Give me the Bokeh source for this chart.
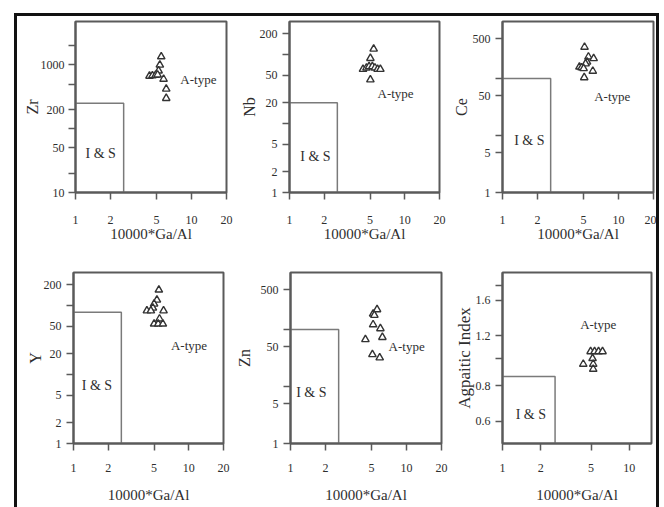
from bokeh.plotting import figure
from bokeh.layouts import row, column
from bokeh.models import FixedTicker, BasicTickFormatter, Range1d, Spacer
from bokeh.core.properties import value
from bokeh.embed import file_html
from bokeh.resources import INLINE

# ---------------- data ----------------
ga_ticks = [1, 2, 5, 10, 20]
ga_ticks_ai = [1, 2, 5, 10]
ga_limit = 2.6
x_title = "10000*Ga/Al"

zr_x = [5.48, 5.33, 5.2, 4.34, 4.6, 4.9, 5.1, 5.74, 6.05, 6.05]
zr_y = [1350, 1000, 810, 670, 680, 690, 700, 600, 420, 300]
zr_limit = 250
zr_major = [10, 50, 200, 1000]
zr_minor = [20, 100, 500, 2000]

nb_x = [5.37, 5.03, 4.34, 4.65, 4.9, 5.23, 5.51, 5.81, 6.14, 5.03]
nb_y = [120, 88, 61, 64, 67, 67, 64, 61, 61, 43]
nb_limit = 20
nb_major = [1, 2, 5, 20, 50, 200]
nb_minor = [10, 100]

ce_x = [5.09, 5.5, 6.1, 5.35, 5.2, 4.6, 4.8, 5.0, 6.0, 5.06]
ce_y = [356, 240, 225, 195, 182, 160, 155, 150, 135, 104]
ce_limit = 100
ce_major = [1, 5, 50, 500]
ce_minor = [10, 100]

y_x = [5.5, 5.29, 5.0, 4.88, 4.33, 4.69, 6.04, 5.57, 5.0, 5.43, 5.96]
y_y = [168, 120, 105, 92, 84, 84, 84, 64, 54, 54, 54]
y_limit = 80
y_major = [1, 2, 5, 20, 50, 200]
y_minor = [10, 100]

zn_x = [5.57, 5.15, 5.28, 5.15, 5.95, 4.42, 6.19, 5.08, 5.87]
zn_y = [224, 187, 178, 122, 104, 67, 73, 36.5, 32]
zn_limit = 100
zn_major = [1, 5, 50, 500]
zn_minor = [10, 100]

ai_x = [4.96, 5.33, 5.73, 6.16, 5.14, 4.34, 5.2, 5.2]
ai_y = [1.054, 1.054, 1.054, 1.054, 0.997, 0.952, 0.952, 0.914]
ai_limit = 0.86
ai_major = [0.6, 0.8, 1.2, 1.6]
ai_minor = [1.0, 1.8]

FONT = "Liberation Serif"
TXT = "#2e2e2e"
FRAME = "#5a5a5a"


def panel(name, xs, ys, limit, yrange, ymajor, yminor, atype_xy, is_xy,
          xmax=20, xticks=ga_ticks, lb=58, rb=8, tb=5, bb=58, fw=151, fh=171,
          ylab_standoff=3, ylab_label_standoff=5, xlab_standoff=16,
          xtitle_standoff=-1, ytitle_size="16px"):
    p = figure(x_axis_type="log", y_axis_type="log",
               x_range=Range1d(1, xmax), y_range=Range1d(*yrange),
               frame_width=fw, frame_height=fh,
               min_border_left=lb, min_border_right=rb,
               min_border_top=tb, min_border_bottom=bb,
               output_backend="svg", toolbar_location=None,
               background_fill_color="white", border_fill_color="white")
    p.grid.visible = False
    p.outline_line_color = FRAME
    p.outline_line_width = 2

    # discrimination box
    p.line(x=[1, ga_limit, ga_limit], y=[limit, limit, yrange[0]],
           line_color="#7a7a7a", line_width=1.5)
    # samples
    p.scatter(x=xs, y=ys, marker="triangle", size=7.5, fill_color="white",
              line_color="#333333", line_width=1.4)
    # field labels
    p.text(x=[atype_xy[0]], y=[atype_xy[1]], text=["A-type"],
           text_font=value(FONT), text_font_size="13px", text_color=TXT,
           text_baseline="middle", text_align="left")
    p.text(x=[is_xy[0]], y=[is_xy[1]], text=["I & S"],
           text_font=value(FONT), text_font_size="14px", text_color=TXT,
           text_baseline="middle", text_align="left")

    for ax in (p.xaxis[0], p.yaxis[0]):
        ax.axis_line_color = FRAME
        ax.axis_line_width = 2
        ax.major_tick_line_color = FRAME
        ax.minor_tick_line_color = FRAME
        ax.major_tick_line_width = 1.5
        ax.minor_tick_line_width = 1.5
        ax.major_tick_in = 0
        ax.minor_tick_in = 0
        ax.major_tick_out = 7
        ax.minor_tick_out = 7
        ax.major_label_text_font = FONT
        ax.major_label_text_font_size = "12px"
        ax.major_label_text_color = TXT
        ax.axis_label_text_font = FONT
        ax.axis_label_text_font_style = "normal"
        ax.axis_label_text_color = TXT
        ax.formatter = BasicTickFormatter(use_scientific=False)

    p.xaxis[0].ticker = FixedTicker(ticks=xticks, minor_ticks=[])
    p.yaxis[0].ticker = FixedTicker(ticks=ymajor, minor_ticks=yminor)
    p.xaxis[0].axis_label = x_title
    p.xaxis[0].axis_label_text_font_size = "15px"
    p.xaxis[0].major_label_standoff = xlab_standoff
    p.xaxis[0].axis_label_standoff = xtitle_standoff
    p.yaxis[0].axis_label = name
    p.yaxis[0].axis_label_text_font_size = ytitle_size
    p.yaxis[0].major_label_standoff = ylab_label_standoff
    p.yaxis[0].axis_label_standoff = ylab_standoff
    return p


# top row: canvas widths 217 + 213 + 209 = 639, height 234
f1 = panel("Zr", zr_x, zr_y, zr_limit, (10, 4800), zr_major, zr_minor,
           (8.0, 600), (1.22, 41), lb=58, rb=8, fw=151,
           ylab_standoff=-3, ylab_label_standoff=4)
f2 = panel("Nb", nb_x, nb_y, nb_limit, (1, 300), nb_major, nb_minor,
           (5.8, 27), (1.24, 3.3), lb=55, rb=8, fw=150, ylab_standoff=-1)
f3 = panel("Ce", ce_x, ce_y, ce_limit, (1, 1000), ce_major, ce_minor,
           (6.17, 49), (1.26, 8.3), lb=55, rb=3, fw=151, ylab_standoff=0)

# bottom row: canvas widths 213 + 218 + 208 = 639, height 257
f4 = panel("Y", y_x, y_y, y_limit, (1, 300), y_major, y_minor,
           (7.0, 26), (1.18, 6.9), lb=56, rb=7, fw=150, tb=22, bb=64,
           ylab_standoff=-3, xlab_standoff=13, xtitle_standoff=12)
f5 = panel("Zn", zn_x, zn_y, zn_limit, (1, 1000), zn_major, zn_minor,
           (7.0, 50), (1.12, 8.0), lb=60, rb=7, fw=151, tb=22, bb=64,
           ylab_standoff=5, xlab_standoff=13, xtitle_standoff=12)
f6 = panel("Agpaitic Index", ai_x, ai_y, ai_limit, (0.5, 2.0), ai_major, ai_minor,
           (4.1, 1.31), (1.27, 0.635), xmax=15, xticks=ga_ticks_ai,
           lb=54, rb=5, fw=149, tb=22, bb=64, ytitle_size="17px",
           ylab_standoff=-1, xlab_standoff=13, xtitle_standoff=12)

BLACK = {"background-color": "#111111"}
grid = column(row(f1, f2, f3), row(f4, f5, f6))
framed = column(
    Spacer(width=645, height=3, styles=BLACK),
    row(Spacer(width=3, height=491, styles=BLACK), grid,
        Spacer(width=3, height=491, styles=BLACK)),
)
page = column(Spacer(width=10, height=13), row(Spacer(width=14, height=10), framed))

open("out.html", "w").write(file_html(page, INLINE))
